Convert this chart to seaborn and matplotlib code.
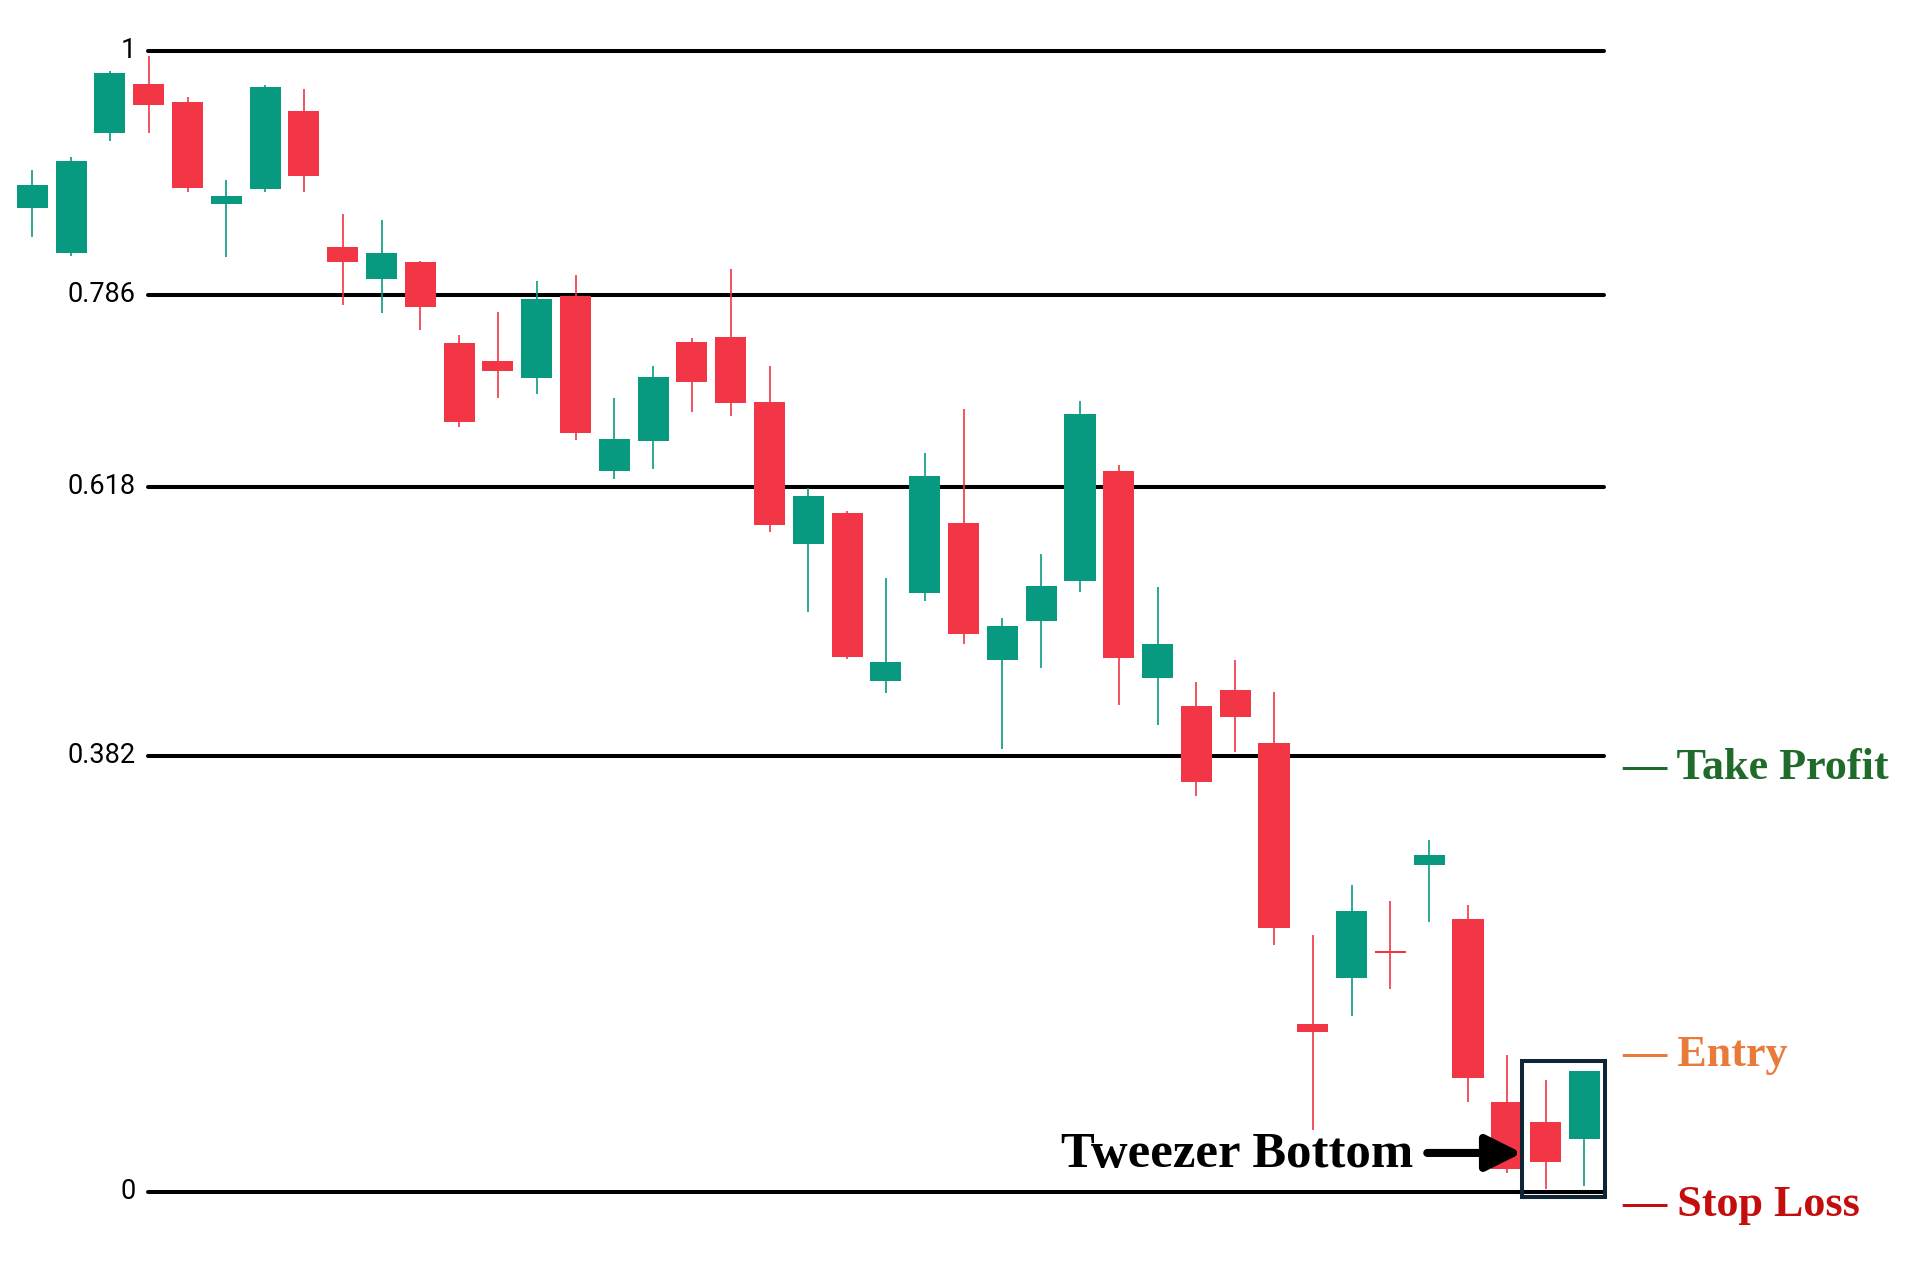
import numpy as np
import pandas as pd
import matplotlib
matplotlib.use("Agg")
import matplotlib.pyplot as plt
from matplotlib.patches import Rectangle
import seaborn as sns

# ---------------- data ----------------
opens = [0.862, 0.823, 0.928, 0.971, 0.955, 0.866, 0.879, 0.947, 0.828, 0.800,
         0.815, 0.744, 0.728, 0.713, 0.785, 0.632, 0.658, 0.745, 0.749, 0.692,
         0.568, 0.595, 0.448, 0.525, 0.586, 0.466, 0.500, 0.535, 0.632, 0.450,
         0.426, 0.440, 0.393, 0.147, 0.187, 0.211, 0.286, 0.239, 0.079, 0.061,
         0.046]
closes = [0.882, 0.903, 0.980, 0.952, 0.880, 0.873, 0.968, 0.890, 0.815, 0.823,
          0.775, 0.675, 0.719, 0.782, 0.665, 0.660, 0.714, 0.710, 0.691, 0.584,
          0.610, 0.469, 0.464, 0.627, 0.489, 0.496, 0.531, 0.682, 0.468, 0.480,
          0.359, 0.416, 0.231, 0.140, 0.246, 0.209, 0.295, 0.100, 0.020, 0.026,
          0.106]
highs = [0.895, 0.907, 0.982, 0.995, 0.959, 0.887, 0.970, 0.966, 0.857, 0.852,
         0.816, 0.751, 0.771, 0.798, 0.803, 0.696, 0.724, 0.748, 0.809, 0.724,
         0.617, 0.597, 0.538, 0.647, 0.686, 0.503, 0.559, 0.693, 0.637, 0.530,
         0.447, 0.466, 0.438, 0.225, 0.269, 0.255, 0.308, 0.251, 0.120, 0.098,
         0.106]
lows = [0.837, 0.820, 0.921, 0.928, 0.876, 0.819, 0.876, 0.876, 0.777, 0.770,
        0.755, 0.670, 0.696, 0.699, 0.659, 0.625, 0.633, 0.683, 0.680, 0.578,
        0.508, 0.467, 0.437, 0.518, 0.480, 0.388, 0.459, 0.526, 0.427, 0.409,
        0.347, 0.385, 0.216, 0.054, 0.154, 0.178, 0.236, 0.079, 0.016, 0.002,
        0.005]

fib_levels = [1.0, 0.786, 0.618, 0.382, 0.0]
fib_labels = ["1", "0.786", "0.618", "0.382", "0"]

side_labels = ["— Take Profit", "— Entry", "— Stop Loss"]
side_label_y = [0.362, 0.110, -0.021]
side_colors = ["#1e6b2a", "#ea7a3a", "#c40d0d"]

pattern_label = "Tweezer Bottom"

UP = "#089981"
DOWN = "#F23645"

df = pd.DataFrame({"open": opens, "high": highs, "low": lows, "close": closes})
df["idx"] = np.arange(len(df))
df["up"] = df["close"] >= df["open"]
df["color"] = np.where(df["up"], UP, DOWN)
df["body_low"] = df[["open", "close"]].min(axis=1)
df["body_h"] = (df["close"] - df["open"]).abs()

# ---------------- figure ----------------
sns.set_theme(style="white")
plt.rcParams["font.family"] = ["Roboto", "DejaVu Sans"]

fig = plt.figure(figsize=(19.22, 12.82), dpi=100)
ax = fig.add_axes([0, 0, 1, 1])
ax.set_xlim(-0.8325, 48.70)
ax.set_ylim(-0.0791, 1.0444)
ax.axis("off")

# fib lines
for lvl, lab in zip(fib_levels, fib_labels):
    ax.plot([2.97, 40.51], [lvl, lvl], color="black", lw=2.9,
            solid_capstyle="round", zorder=1)
    ax.text(2.66, lvl, lab, ha="right", va="center", fontsize=19.5,
            color="black", family=["Roboto", "DejaVu Sans"])

# wicks
ax.vlines(df["idx"], df["low"], df["high"], colors=df["color"], lw=1.2, zorder=2)
# bodies
ax.bar(df["idx"], df["body_h"], bottom=df["body_low"], width=0.8,
       color=df["color"], linewidth=0, zorder=3)

# highlight box around the tweezer bottom
ax.add_patch(Rectangle((38.39, -0.0044), 2.14, 0.1194, fill=False,
                       edgecolor="#0f2535", lw=2.9, zorder=5))

# annotation arrow + label
ax.annotate("", xy=(38.39, 0.034), xytext=(35.95, 0.034),
            arrowprops=dict(arrowstyle="-|>,head_length=1.08,head_width=0.54",
                            lw=5.8, color="black", mutation_scale=20,
                            shrinkA=0, shrinkB=0), zorder=6)
ax.text(35.58, 0.0215, pattern_label, ha="right", va="baseline",
        fontsize=36.5, fontweight="bold", color="black",
        family=["Liberation Serif", "DejaVu Serif"])

# right side labels
for lab, yv, c in zip(side_labels, side_label_y, side_colors):
    ax.text(40.97, yv, lab, ha="left", va="baseline", fontsize=31.8,
            fontweight="bold", color=c,
            family=["Liberation Serif", "DejaVu Serif"])

fig.savefig("out.png", dpi=100, facecolor="white")
